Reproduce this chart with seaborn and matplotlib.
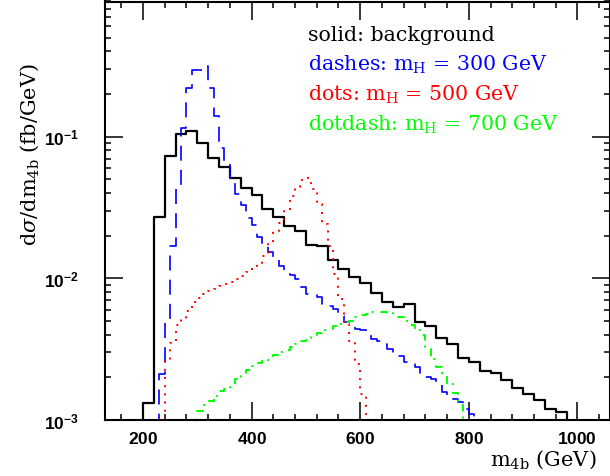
import matplotlib
matplotlib.use("Agg")
import numpy as np
import pandas as pd
import matplotlib.pyplot as plt
import seaborn as sns
from matplotlib.ticker import FixedLocator, FuncFormatter, LogLocator, NullFormatter, MultipleLocator

# ---------------- data (bin contents, fb/GeV) ----------------
# solid: background, 20 GeV bins starting at 200 GeV
bkg_start = 200
bkg_width = 20
bkg_vals = [1.32e-3, 0.0269, 0.0725, 0.1041, 0.1099, 0.0900, 0.0705, 0.0607, 0.0507, 0.0433,
            0.0387, 0.0308, 0.0269, 0.0235, 0.0217, 0.0173, 0.0170, 0.0135, 0.0116, 0.0103,
            0.00922, 0.00788, 0.00684, 0.00627, 0.00659, 0.00494, 0.00459, 0.00379, 0.00344, 0.00273,
            0.00257, 0.00223, 0.00215, 0.00192, 0.00168, 0.00153, 0.00139, 0.00119, 0.00114]

# dashes: m_H = 300 GeV, 10 GeV bins starting at 230 GeV
h300_start = 230
h300_width = 10
h300_vals = [2.11e-3, 5.16e-3, 0.0170, 0.0450, 0.1148, 0.2223, 0.2944, 0.2944, 0.3157, 0.2223,
             0.1402, 0.0830, 0.0658, 0.0507, 0.0393, 0.0329, 0.0265, 0.0238, 0.0195, 0.0177,
             0.0154, 0.0137, 0.0123, 0.0114, 0.0106, 0.00989, 0.00868, 0.00775, 0.00763, 0.00738,
             0.00659, 0.00638, 0.00607, 0.00545, 0.00492, 0.00500, 0.00439, 0.00432, 0.00418, 0.00373,
             0.00361, 0.00344, 0.00317, 0.00302, 0.00283, 0.00257, 0.00249, 0.00237, 0.00205, 0.00201,
             0.00195, 0.00180, 0.00158, 0.00148, 0.00141, 0.00134, 0.00120, 0.00110, 0.00102]

# dots: m_H = 500 GeV, 10 GeV bins starting at 240 GeV
h500_start = 240
h500_width = 10
h500_vals = [2.61e-3, 3.50e-3, 4.69e-3, 5.16e-3, 5.88e-3, 6.81e-3, 7.26e-3, 7.75e-3, 8.14e-3, 8.41e-3,
             8.82e-3, 9.12e-3, 9.42e-3, 9.89e-3, 0.01038, 0.01107, 0.01182, 0.01262, 0.01437, 0.01745,
             0.02157, 0.02455, 0.02983, 0.03805, 0.04405, 0.04933, 0.05096, 0.04264, 0.03342, 0.02415,
             0.01689, 0.01072, 7.14e-3, 4.76e-3, 3.61e-3, 2.49e-3, 1.53e-3]

# dotdash: m_H = 700 GeV, 10 GeV bins starting at 300 GeV
h700_start = 300
h700_width = 10
h700_vals = [1.159e-3, 1.278e-3, 1.363e-3, 1.479e-3, 1.604e-3, 1.657e-3, 1.740e-3, 1.95e-3, 2.05e-3, 2.257e-3,
             2.408e-3, 2.528e-3, 2.611e-3, 2.65e-3, 2.877e-3, 3.02e-3, 3.122e-3, 3.278e-3, 3.44e-3, 3.61e-3,
             3.672e-3, 3.856e-3, 4.114e-3, 4.319e-3, 4.39e-3, 4.61e-3, 4.76e-3, 4.92e-3, 5.00e-3, 5.335e-3,
             5.51e-3, 5.59e-3, 5.785e-3, 5.785e-3, 5.785e-3, 5.70e-3, 5.51e-3, 5.335e-3, 5.00e-3, 4.686e-3,
             4.319e-3, 3.985e-3, 3.17e-3, 2.698e-3, 2.37e-3, 2.05e-3, 1.80e-3, 1.553e-3, 1.278e-3]

x_major = [200, 400, 600, 800, 1000]
y_major = [1e-3, 1e-2, 1e-1]

legend_lines = [
    ("solid: background", "black"),
    (r"dashes: $\mathrm{m}_{\mathrm{H}}$ = 300 GeV", "#0000ff"),
    (r"dots: $\mathrm{m}_{\mathrm{H}}$ = 500 GeV", "#ff0000"),
    (r"dotdash: $\mathrm{m}_{\mathrm{H}}$ = 700 GeV", "#00ff00"),
]

# ---------------- style ----------------
sns.set_style("ticks")
plt.rcParams.update({
    "mathtext.fontset": "custom",
    "mathtext.rm": "DejaVu Serif",
    "mathtext.it": "DejaVu Serif:italic",
    "mathtext.bf": "Liberation Sans:bold",
    "mathtext.sf": "DejaVu Sans",
    "axes.linewidth": 1.5,
    "text.color": "black",
    "axes.labelcolor": "black",
    "xtick.color": "black",
    "ytick.color": "black",
    "axes.edgecolor": "black",
})
plt.rcParams["font.family"] = ["DejaVu Serif", "DejaVu Sans"]

fig = plt.figure(figsize=(6.10, 4.77), dpi=100)
ax = fig.add_axes([105 / 610, (477 - 421) / 477, 505 / 610, (421 - 2.5) / 477])
ax.set_yscale("log")

FLOOR = 1e-5  # empty bins (drawn below the visible range)

series = [
    (bkg_start, bkg_width, bkg_vals, "black", 1.6, None),
    (h300_start, h300_width, h300_vals, "#0000ff", 1.2, (9, 5.5)),
    (h500_start, h500_width, h500_vals, "#ff0000", 1.4, (1.0, 3.2)),
    (h700_start, h700_width, h700_vals, "#00ff00", 1.4, (4.0, 2.6, 1.0, 3.6)),
]

for start, width, vals, color, lw, dashes in series:
    n = len(vals)
    edges = [start + i * width for i in range(n + 1)]
    xs = [edges[0]] + edges[:-1] + [edges[-1], edges[-1]]
    ys = [FLOOR] + list(vals) + [vals[-1], FLOOR]
    df = pd.DataFrame({"m4b": xs, "dsig": ys})
    sns.lineplot(data=df, x="m4b", y="dsig", ax=ax, color=color, lw=lw,
                 drawstyle="steps-post", estimator=None, sort=False)
    line = ax.lines[-1]
    if dashes is not None:
        line.set_dashes(dashes)
        line.set_dash_capstyle("butt")

ax.set_xlim(130, 1060)
ax.set_ylim(1e-3, 0.9)

ax.xaxis.set_major_locator(FixedLocator(x_major))
ax.xaxis.set_minor_locator(MultipleLocator(40))
ax.xaxis.set_major_formatter(FuncFormatter(lambda v, p: r"$\mathbf{%d}$" % int(round(v))))
ax.yaxis.set_major_locator(FixedLocator(y_major))
ax.yaxis.set_minor_locator(LogLocator(base=10, subs=np.arange(2, 10)))
ax.yaxis.set_minor_formatter(NullFormatter())
ax.yaxis.set_major_formatter(FuncFormatter(
    lambda v, p: r"$\mathbf{10^{%d}}$" % int(round(np.log10(v)))))

ax.tick_params(which="both", direction="in", top=True, right=True, width=1.1,
               color="black", labelcolor="black", labelsize=12.5)
ax.tick_params(which="major", length=13)
ax.tick_params(which="minor", length=4.6)
ax.tick_params(axis="x", which="major", pad=7)
ax.tick_params(axis="y", which="major", pad=19)

for s in ax.spines.values():
    s.set_linewidth(1.5)
    s.set_color("black")

ax.set_xlabel("")
ax.set_ylabel("")

fig.text(30 / 610, (477 - 155) / 477, r"d$\sigma$/dm$_{\mathrm{4b}}$ (fb/GeV)",
         rotation=90, ha="center", va="center", fontsize=15, family="DejaVu Serif")
fig.text(597 / 610, (477 - 466) / 477, r"m$_{\mathrm{4b}}$ (GeV)",
         ha="right", va="baseline", fontsize=15, family="DejaVu Serif")

ys_leg = [41, 71, 101, 131]
for (txt, col), yb in zip(legend_lines, ys_leg):
    ax.text((308 - 105) / 505, (421 - yb) / 418.5, txt, transform=ax.transAxes,
            ha="left", va="baseline", color=col, fontsize=14.8, family="DejaVu Serif")

fig.savefig("out.png", dpi=100)
